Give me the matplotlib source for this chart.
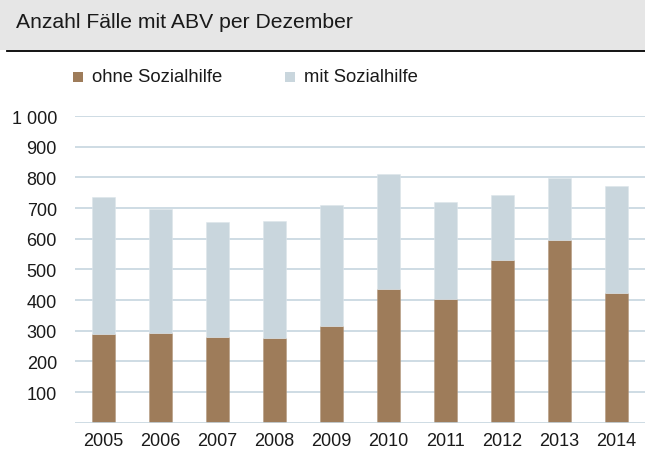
import matplotlib
matplotlib.use('Agg')
import matplotlib.pyplot as plt
from matplotlib.patches import Rectangle
from matplotlib.lines import Line2D
import numpy as np

# --- Data ---
years = ['2005', '2006', '2007', '2008', '2009', '2010', '2011', '2012', '2013', '2014']
ohne_sozialhilfe = [289, 292, 279, 277, 316, 435, 403, 531, 596, 422]
total = [735, 698, 656, 658, 711, 810, 718, 742, 799, 773]
mit_sozialhilfe = [t - o for t, o in zip(total, ohne_sozialhilfe)]
y_ticks = [100, 200, 300, 400, 500, 600, 700, 800, 900, 1000]
y_labels = ['100', '200', '300', '400', '500', '600', '700', '800', '900', '1 000']
series_names = ['ohne Sozialhilfe', 'mit Sozialhilfe']

BROWN = '#9e7c5a'
GREY = '#c9d6dd'
GRID = '#c6d6df'
W, H = 645, 456

plt.rcParams['font.family'] = ['Liberation Sans', 'DejaVu Sans']

fig = plt.figure(figsize=(W / 100, H / 100), dpi=100)

# title band
fig.patches.append(Rectangle((0, 1 - 51 / H), 1, 51 / H - 1 / H, transform=fig.transFigure,
                             facecolor='#e6e6e6', edgecolor='none', zorder=0))
fig.lines.append(Line2D([7 / W, 1], [1 - 51.5 / H] * 2, transform=fig.transFigure,
                        color='black', linewidth=1.3))
fig.text(16 / W, 1 - 23 / H, 'Anzahl Fälle mit ABV per Dezember', fontsize=15.2,
         va='center', ha='left', color='#1a1a1a')

# legend drawn by hand (square + label)
for sx, col, name in zip([73, 285], [BROWN, GREY], series_names):
    fig.patches.append(Rectangle((sx / W, 1 - 83 / H), 10 / W, 10 / H,
                                 transform=fig.transFigure, facecolor=col,
                                 edgecolor='none'))
    fig.text((sx + 19) / W, 1 - 78 / H, name, fontsize=13.3, va='center',
             ha='left', color='#1a1a1a')

ax = fig.add_axes([75 / W, 1 - 423.7 / H, 1 - 75 / W, (423.7 - 117) / H])
x = np.arange(len(years))
ax.bar(x, ohne_sozialhilfe, width=0.4, color=BROWN, edgecolor='#b49a80',
       linewidth=0.4, zorder=3)
ax.bar(x, mit_sozialhilfe, bottom=ohne_sozialhilfe, width=0.4, color=GREY,
       edgecolor='#dde6eb', linewidth=0.4, zorder=3)

ax.set_xlim(-0.5, len(years) - 0.5)
ax.set_ylim(0, 1000)
ax.set_yticks(y_ticks)
ax.set_yticklabels(y_labels)
ax.set_xticks(x)
ax.set_xticklabels(years)
ax.tick_params(axis='both', length=0, labelsize=13, colors='#1a1a1a')
ax.tick_params(axis='y', pad=13)
ax.tick_params(axis='x', pad=7)
ax.grid(axis='y', color=GRID, linewidth=1.2, zorder=0)
ax.axhline(0, color=GRID, linewidth=1.2, zorder=4)
for s in ax.spines.values():
    s.set_visible(False)

fig.savefig('out.png', dpi=100)
